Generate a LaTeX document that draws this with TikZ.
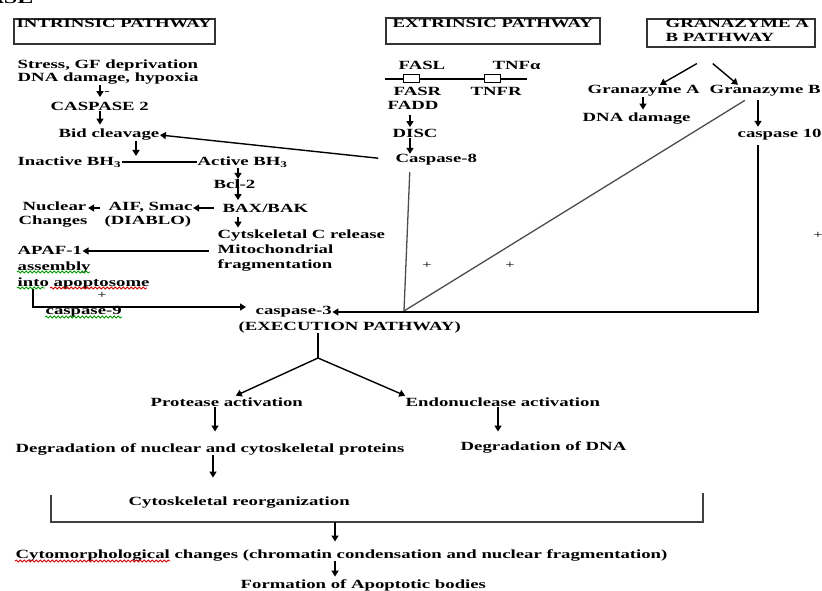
\documentclass[tikz,border=0pt]{standalone}
\usepackage{fontspec}
\setmainfont{Liberation Serif}[FakeStretch=1.5]
\usetikzlibrary{arrows.meta,decorations.pathmorphing}

\begin{document}
\begin{tikzpicture}[x=1pt,y=-1pt,
  >={Triangle[length=6pt,width=7pt]},
  lbl/.style={inner sep=0.5pt, anchor=west, align=left, font=\bfseries\fontsize{12.5}{#1}\selectfont},
  lbl/.default=13,
  pls/.style={inner sep=0pt, font=\fontsize{11}{11}\selectfont},
  pbox/.style={draw=black!80, line width=1.6pt, anchor=north west, inner sep=0pt},
  rcp/.style={draw, line width=1pt, fill=white, minimum width=16pt, minimum height=8pt, inner sep=0pt},
  arr/.style={->, line width=1.4pt},
  wire/.style={line width=1.3pt, draw=black!70},
  squig/.style={line width=0.9pt, decorate, decoration={snake, amplitude=0.9pt, segment length=4pt}}]

  \useasboundingbox (0,0) rectangle (822,591);

  % Cut-off heading
  \node[lbl, anchor=base east, font=\bfseries\fontsize{16}{16}\selectfont] (head) at (34,4) {ASE};

  % Pathway boxes
  \node[pbox, minimum width=201pt, minimum height=25pt] (intrBox) at (13,18) {};
  \node[pbox, minimum width=214pt, minimum height=26pt] (extrBox) at (385,17) {};
  \node[pbox, minimum width=168pt, minimum height=28pt] (granBox) at (646,18) {};
  \node[lbl] (intrTitle) at (16,23) {INTRINSIC PATHWAY};
  \node[lbl] (extrTitle) at (392,23) {EXTRINSIC PATHWAY};
  \node[lbl=14] (granTitle) at (665,30) {GRANAZYME A\\B PATHWAY};

  % Intrinsic pathway
  \node[lbl] (stress) at (17,72.5) {Stress, GF deprivation\\DNA damage, hypoxia};
  \node[pls] (stressSign) at (107,93) {-};
  \node[lbl] (casp2) at (50,106) {CASPASE 2};
  \node[lbl] (bid) at (58,135) {Bid cleavage};
  \coordinate (bhJoin) at (136,156);
  \node[lbl] (inBH) at (17,162) {Inactive BH\textsubscript{3}};
  \node[lbl] (acBH) at (197,162) {Active BH\textsubscript{3}};
  \node[lbl] (bcl) at (213,184) {Bcl-2};
  \node[lbl] (bax) at (222,208) {BAX/BAK};
  \node[lbl=14] (aif) at (104,215) {\hspace*{4pt}AIF, Smac\\(DIABLO)};
  \node[lbl=14] (nuc) at (18,215) {\hspace*{4pt}Nuclear\\Changes};
  \node[lbl=15] (cytc) at (217,251) {Cytskeletal C release\\Mitochondrial\\fragmentation};
  \node[lbl] (apaf) at (17,250) {APAF-1};
  \node[lbl=16] (apop) at (17,275) {assembly\\into apoptosome};
  \node[pls] (plusA) at (102,295) {+};
  \node[lbl] (casp9) at (45,312) {caspase-9};

  % Extrinsic pathway
  \coordinate (memL) at (385,79);
  \coordinate (memR) at (527,79);
  \draw[line width=1.2pt] (memL) -- (memR);
  \node[lbl] (fasl) at (398,65) {FASL};
  \node[lbl] (tnfa) at (492,65) {TNFα};
  \node[rcp] (fasRcp) at (411,79) {};
  \node[rcp] (tnfRcp) at (492,79) {};
  \node[lbl] (fasr) at (393,91) {FASR};
  \node[lbl] (tnfr) at (470,91) {TNFR};
  \node[lbl] (fadd) at (387,105) {FADD};
  \node[lbl] (disc) at (392,133) {DISC};
  \node[lbl] (casp8) at (395,160) {Caspase-8};

  % Granzyme pathway
  \coordinate (granFork) at ([yshift=-16pt]granBox.south);
  \node[lbl] (grA) at (587,91) {Granazyme A};
  \node[lbl] (grB) at (709,91) {Granazyme B};
  \node[lbl] (dnaDam) at (582,119) {DNA damage};
  \node[lbl] (casp10) at (737,135) {caspase 10};
  \node[pls] (plusB) at (427,265) {+};
  \node[pls] (plusC) at (510,265) {+};
  \node[pls] (plusD) at (818,235) {+};

  % Execution pathway
  \node[lbl] (casp3) at (255,312) {caspase-3};
  \node[lbl] (exec) at (238,327) {(EXECUTION PATHWAY)};
  \coordinate (join3) at (404,311);
  \coordinate (split) at (318,358);
  \node[lbl] (prot) at (150,402) {Protease activation};
  \node[lbl] (endo) at (405,402) {Endonuclease activation};
  \node[lbl] (degP) at (15,449) {Degradation of nuclear and cytoskeletal proteins};
  \node[lbl] (degD) at (460,447) {Degradation of DNA};
  \node[lbl] (cyto) at (128,503) {Cytoskeletal reorganization};
  \coordinate (brkL) at (51,495);
  \coordinate (brkR) at (703,493);
  \coordinate (brkMid) at (335,522);
  \node[lbl] (morph) at (15,555) {Cytomorphological changes (chromatin condensation and nuclear fragmentation)};
  \node[lbl] (form) at (240,585) {Formation of Apoptotic bodies};

  % Arrows, intrinsic
  \draw[arr, shorten >=4pt] (100,0 |- stress.south) -- (100,0 |- casp2.north);
  \draw[arr, shorten >=4pt] (100,0 |- casp2.south) -- (100,0 |- bid.north);
  \draw[arr] (136,0 |- bid.south) -- (bhJoin);
  \draw[line width=1.2pt] (inBH.east) -- (acBH.west);
  \draw[arr] (238,0 |- acBH.south) -- (238,0 |- bcl.north);
  \draw[arr, shorten >=3pt] (238,0 |- bcl.north) -- (238,0 |- bax.north);
  \draw[arr, shorten <=8pt] (bax.west) -- (aif.east |- bax.west);
  \draw[arr, shorten <=4pt] (aif.west |- bax.west) -- (nuc.east |- bax.west);
  \draw[arr, shorten <=4pt, shorten >=2pt] (238,0 |- bax.south) -- (238,0 |- cytc.north);
  \draw[arr, shorten <=8pt] (cytc.west) -- (apaf.east |- cytc.west);
  \draw[arr, shorten >=9pt] (33,0 |- apop.south) |- ([yshift=5pt]casp3.west);

  % Arrows, extrinsic
  \draw[arr, shorten <=5pt, shorten >=1pt] (410,0 |- fadd.south) -- (410,0 |- disc.north);
  \draw[arr] (410,0 |- disc.south) -- (410,0 |- casp8.north);
  \draw[arr, shorten <=17pt] (casp8.west) -- (bid.east);
  \draw[wire, shorten <=6pt] (410,0 |- casp8.south) -- (join3);

  % Arrows, granzyme
  \draw[arr] ([xshift=-34pt]granFork) -- (660,0 |- grA.north);
  \draw[arr] ([xshift=-18pt]granFork) -- (738,0 |- grB.north);
  \draw[arr, shorten >=3pt] (643,0 |- grA.south) -- (643,0 |- dnaDam.north);
  \draw[arr, shorten <=3pt, shorten >=2pt] (758,0 |- grB.south) -- (758,0 |- casp10.north);
  \draw[wire, shorten <=6pt] (750,0 |- grB.south) -- (join3);
  \draw[arr, shorten <=4pt] (758,0 |- casp10.south) |- (casp3.east);

  % Arrows, execution
  \draw[line width=1.4pt] (318,0 |- exec.south) -- (split);
  \draw[arr, shorten >=3pt] (split) -- (233,0 |- prot.north);
  \draw[arr, shorten >=3pt] (split) -- (408,0 |- endo.north);
  \draw[arr, shorten >=11pt] (215,0 |- prot.south) -- (215,0 |- degP.north);
  \draw[arr, shorten >=9pt] (498,0 |- endo.south) -- (498,0 |- degD.north);
  \draw[arr, shorten >=19pt] (213,0 |- degP.south) -- (213,0 |- cyto.north);
  \draw[line width=1.5pt, black!75] (brkL) |- (brkR |- brkMid) -- (brkR);
  \draw[arr, shorten >=7pt] (brkMid) -- (brkMid |- morph.north);
  \draw[arr, shorten >=2pt] (335,0 |- morph.south) -- (335,0 |- form.north);

  % Spell-check marks
  \draw[squig, green!60!black] (17,272) -- (90,272);
  \draw[squig, green!60!black] (17,288) -- (45,288);
  \draw[squig, red!85!black] (50,288) -- (147,288);
  \draw[squig, green!60!black] (45,317) -- (122,317);
  \draw[squig, red!85!black] (15,561) -- (170,561);

\end{tikzpicture}
\end{document}
